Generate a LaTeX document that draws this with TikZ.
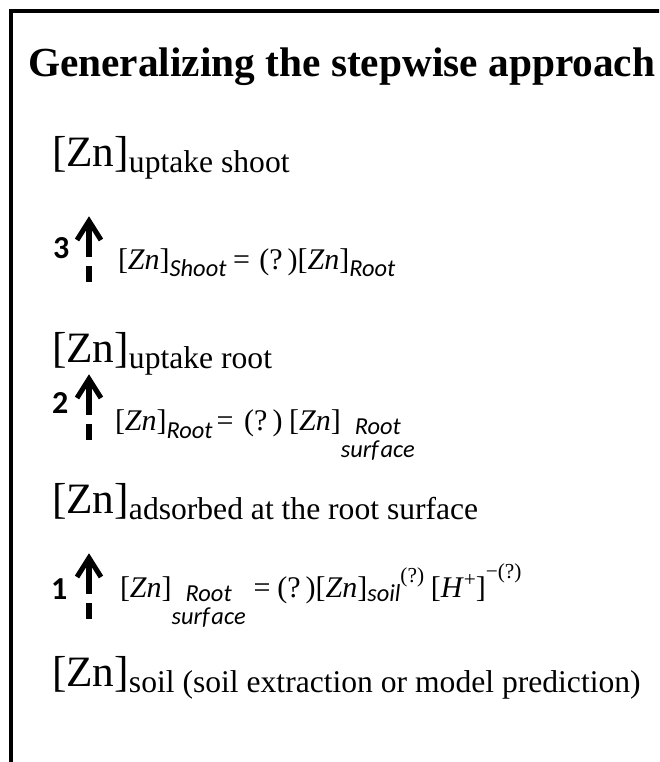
\documentclass[tikz,border=0pt]{standalone}
\usepackage{fontspec}
\setmainfont{Liberation Serif}
\newfontfamily\carl{Carlito}
\newcommand\subf{\carl\itshape\fontsize{18.3}{20}\selectfont}
\newcommand\esub[2][5pt]{\raisebox{-#1}{\subf #2}}
\newcommand\lsub[1]{\raisebox{-4.5pt}{\fontsize{23.7}{27}\selectfont #1}}
\newcommand\stk[1][2pt]{\raisebox{-#1}{\subf\begin{tabular}[t]{@{}c@{}}Root\\[-2.5pt]surf\kern1.5pt ace\end{tabular}}}
\newcommand\esup[3]{\raisebox{#1}{\fontsize{#2}{#2}\selectfont #3}}
\tikzset{
  txt/.style={anchor=base west, inner sep=0pt, outer sep=0pt},
  titletxt/.style={txt, font=\bfseries\fontsize{31}{36}\selectfont},
  bigzn/.style={txt, font=\fontsize{32.5}{37}\selectfont},
  eqtxt/.style={txt, font=\fontsize{22.5}{26}\selectfont},
  stepnum/.style={txt, font=\carl\bfseries\fontsize{24}{28}\selectfont},
  arrline/.style={line width=3.8pt, black},
  steparrow/.pic={
    \draw[arrline, line join=miter] (-12,20) -- (0,1) -- (12,20);
    \draw[arrline, line cap=butt] (0,4) -- (0,37) (0,46) -- (0,62);
  }
}
\begin{document}
\begin{tikzpicture}[x=0.75pt,y=-0.75pt]
\useasboundingbox (0,0) rectangle (659,762);
\begin{scope}
\clip (0,0) rectangle (659,762);
\draw[line width=3pt] (10.5,11.5) rectangle (720,820);
\end{scope}
\node[titletxt] (title) at (28,77) {Generalizing the stepwise approach};
\node[bigzn] (l4) at (52,167) {[Zn]\lsub{uptake shoot}};
\node[stepnum] (n3) at (53,259) {3};
\pic at (89,220) {steparrow};
\node[eqtxt] (e3) at (118,270) {[\textit{Zn}]\esub{Shoot}\hspace{5pt}=\hspace{7pt}(?\,)[\textit{Zn}]\esub{Root}};
\node[bigzn] (l3) at (52,362) {[Zn]\lsub{uptake root}};
\node[stepnum] (n2) at (52,413) {2};
\pic at (89,378) {steparrow};
\node[eqtxt] (e2) at (115,430) {[\textit{Zn}]\esub[6pt]{Root}\hspace{3pt}=\hspace{8pt}(?\,)\hspace{5pt}[\textit{Zn}]\stk[3pt]};
\node[bigzn] (l2) at (52,513) {[Zn]\lsub{adsorbed at the root surface}};
\node[stepnum] (n1) at (51,599) {1};
\pic at (89,557) {steparrow};
\node[eqtxt] (e1) at (120,597) {[\textit{Zn}]\stk[3pt]\hspace{6pt}=\hspace{5pt}(?\,)[\textit{Zn}]\esub[3pt]{soil}\esup{11pt}{16}{(?)}\hspace{5pt}[\textit{H}\esup{8pt}{16}{+}]\esup{14pt}{16}{−(?)}};
\node[bigzn] (l1) at (52,686) {[Zn]\lsub{soil (soil extraction or model prediction)}};
\end{tikzpicture}
\end{document}
